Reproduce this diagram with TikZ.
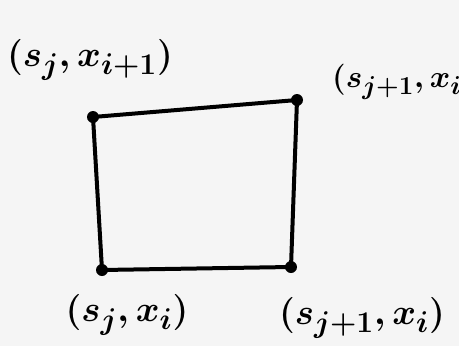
\documentclass[tikz,border=0pt]{standalone}
\begin{document}
\begin{tikzpicture}[x=1pt,y=-1pt,
  edge/.style={line width=4pt,line join=round,line cap=round},
  dot/.style={circle,fill=black,inner sep=0pt,minimum size=12pt},
  lbl/.style={inner sep=0pt,font=\Huge}]
\useasboundingbox (0,0) rectangle (459,346);
\fill[gray!8] (0,0) rectangle (459,346);
\clip (0,0) rectangle (459,346);
\node[dot] (tl) at (93,117) {};
\node[dot] (tr) at (297,100) {};
\node[dot] (bl) at (102,270) {};
\node[dot] (br) at (291,267) {};
\draw[edge] (tl.center) -- (tr.center) -- (br.center) -- (bl.center) -- cycle;
\node[lbl] (ltl) at (90,60) {\scalebox{1.45}{\boldmath$(s_j, x_{i+1})$}};
\node[lbl,anchor=west] (ltr) at (332,82) {\scalebox{1.25}{\boldmath$(s_{j+1}, x_{i+1})$}};
\node[lbl] (lbl) at (127,315) {\scalebox{1.45}{\boldmath$(s_j, x_i)$}};
\node[lbl] (lbr) at (362,318) {\scalebox{1.45}{\boldmath$(s_{j+1}, x_i)$}};
\end{tikzpicture}
\end{document}
